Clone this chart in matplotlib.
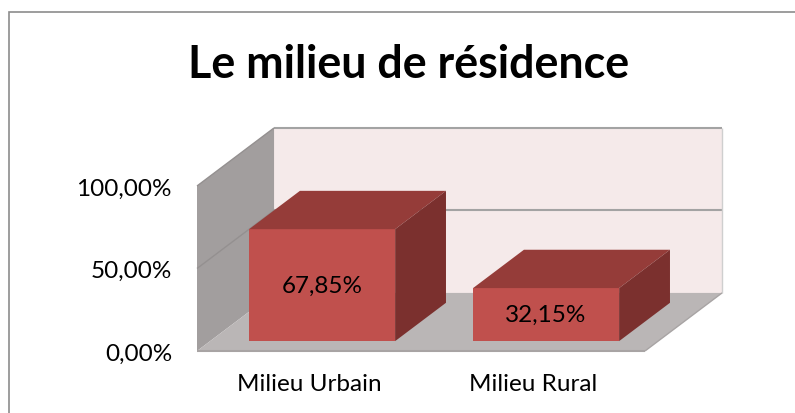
import matplotlib
matplotlib.use("Agg")
import matplotlib.pyplot as plt
from matplotlib.patches import Polygon, Rectangle

# data ------------------------------------------------------------------
categories = ["Milieu Urbain", "Milieu Rural"]
values = [67.85, 32.15]
y_ticks = [0, 50, 100]
title = "Le milieu de résidence"

W, H = 795, 414
plt.rcParams['font.family'] = ['Lato', 'DejaVu Sans']
FS = 17.5

fig = plt.figure(figsize=(W / 100, H / 100), dpi=100)
# front plane of the 3D box
ax = fig.add_axes([197 / W, 1 - 352 / H, 448 / W, 165 / H])
ax.set_xlim(0, len(categories))
ax.set_ylim(0, y_ticks[-1])
ax.set_facecolor('none')
for s in ax.spines.values():
    s.set_visible(False)

# oblique depth offset, in data units
DX, DZ = 0.344, 35.2


def proj(x, z, d):
    return (x + d * DX, z + d * DZ)


def face(pts, color, zorder, ec='none', lw=0):
    ax.add_patch(Polygon([proj(*p) for p in pts], closed=True, fc=color,
                         ec=ec, lw=lw, zorder=zorder, clip_on=False))


def line(p, q, color, lw, zorder):
    a, b = proj(*p), proj(*q)
    ax.plot([a[0], b[0]], [a[1], b[1]], color=color, lw=lw,
            zorder=zorder, clip_on=False, solid_capstyle='butt')


n = len(categories)
top = y_ticks[-1]

# walls -------------------------------------------------------------------
face([(0, 0, 1), (n, 0, 1), (n, top, 1), (0, top, 1)], '#f5eaea', 1)
face([(0, 0, 0), (0, 0, 1), (0, top, 1), (0, top, 0)], '#a29e9e', 1)
face([(0, 0, 0), (n, 0, 0), (n, 0, 1), (0, 0, 1)], '#bab6b6', 1)

# gridlines
for t in y_ticks[1:]:
    line((0, t, 1), (n, t, 1), '#a3a3a3', 1.5, 2)
    line((0, t, 0), (0, t, 1), '#949090', 1.0, 2)
line((n, 0, 1), (n, top, 1), '#cfcfcf', 1.0, 2)
line((0, 0, 0), (n, 0, 0), '#a8a4a4', 1.5, 2)
line((n, 0, 0), (n, 0, 1), '#a8a4a4', 1.0, 2)

# bars --------------------------------------------------------------------
bw = 0.652
d0, d1 = 0.17, 0.83
for i, v in enumerate(values):
    x0 = i + 0.5 - bw / 2
    x1 = x0 + bw
    face([(x0, 0, d0), (x1, 0, d0), (x1, v, d0), (x0, v, d0)], '#c0504d', 5)
    face([(x0, v, d0), (x1, v, d0), (x1, v, d1), (x0, v, d1)], '#953c39', 5)
    face([(x1, 0, d0), (x1, 0, d1), (x1, v, d1), (x1, v, d0)], '#7b302e', 5)
    cx, cy = proj(i + 0.5, v / 2, d0)
    ax.text(cx, cy, f"{v:.2f}%".replace('.', ','), ha='center', va='center',
            fontsize=FS, color='black', zorder=6)

# axes labels -------------------------------------------------------------
ax.set_yticks(y_ticks)
ax.set_yticklabels([f"{t:.2f}%".replace('.', ',') for t in y_ticks])
ax.set_xticks([i + 0.5 for i in range(n)])
ax.set_xticklabels(categories)
ax.tick_params(axis='y', length=0, pad=18, labelsize=FS)
ax.tick_params(axis='x', length=0, pad=16, labelsize=FS)
for lab in ax.get_yticklabels():
    lab.set_va('center_baseline')

fig.text(409 / W, 1 - 78 / H, title, ha='center', va='baseline',
         fontsize=32.3, fontweight='bold')

# chart frame
fig.patches.append(Rectangle((9 / W, -0.1), 1.0, 1 - 13 / H + 0.1,
                             transform=fig.transFigure, fill=False,
                             ec='#8c8c8c', lw=1.2))

fig.savefig('out.png', dpi=100)
